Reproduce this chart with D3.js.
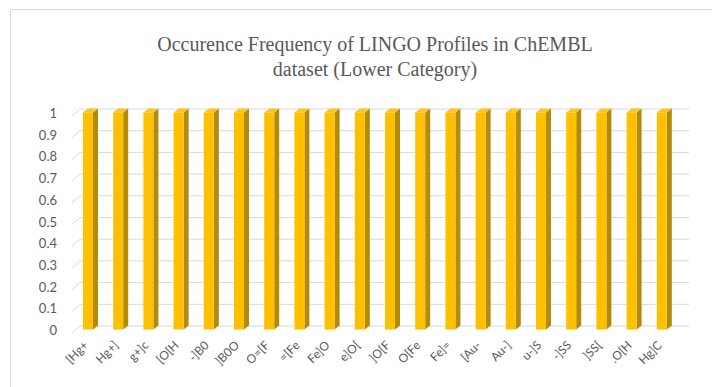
<!DOCTYPE html>
<html>
<head>
<meta charset="utf-8">
<script src="https://cdn.jsdelivr.net/npm/d3@7"></script>
<style>
  html, body { margin: 0; padding: 0; background: #fff; }
  svg { display: block; }
</style>
</head>
<body>
<svg id="chart" width="712" height="387"></svg>
<script>
// LINGO profiles (lower category) and their occurrence frequency
const categories = ["[Hg+", "Hg+]", "g+]c", "[O[H", "-]B0", "]B0O", "O=[F", "=[Fe", "Fe]O", "e]O[",
                    "]O[F", "O[Fe", "Fe]=", "[Au-", "Au-]", "u-]S", "-]SS", "]SS[", ".O[H", "Hg]C"];
const frequency = [1, 1, 1, 1, 1, 1, 1, 1, 1, 1, 1, 1, 1, 1, 1, 1, 1, 1, 1, 1];
const yTicks = [0, 0.1, 0.2, 0.3, 0.4, 0.5, 0.6, 0.7, 0.8, 0.9, 1];
const titleLines = ["Occurence Frequency of LINGO Profiles in ChEMBL", "dataset (Lower Category)"];

const svg = d3.select("#chart");
const textColor = "#595959";
const gridColor = "#D9D9D9";

// outer chart frame
svg.append("path")
  .attr("d", "M10.5,387 L10.5,9.5 L712,9.5")
  .attr("fill", "none")
  .attr("stroke", "#D9D9D9")
  .attr("stroke-width", 1);

// title
const title = svg.append("text")
  .attr("text-anchor", "middle")
  .attr("font-family", "'Liberation Serif', 'Times New Roman', serif")
  .attr("font-size", 20)
  .attr("fill", textColor);
titleLines.forEach((t, i) => {
  title.append("tspan").attr("x", 375).attr("y", 51 + i * 25).text(t);
});

// 3D geometry: back wall plane and the side wall depth offset
const depth = { dx: 8, dy: -7 };
const yBack = d3.scaleLinear().domain([0, 1]).range([326, 109]);
const wallLeft = 80, wallRight = 689;

// category positions
const x = d3.scaleBand().domain(categories).range([75, 679]).paddingInner(0).paddingOuter(0);

// gridlines: side wall diagonal + back wall horizontal
const grid = svg.append("g");
yTicks.forEach(v => {
  const yb = yBack(v);
  grid.append("path")
    .attr("d", `M${wallLeft - depth.dx},${yb - depth.dy} L${wallLeft},${yb} L${wallRight},${yb}`)
    .attr("fill", "none")
    .attr("stroke", gridColor)
    .attr("stroke-width", 1);
});

// y axis labels
svg.append("g").selectAll("text")
  .data(yTicks)
  .join("text")
  .attr("x", 57)
  .attr("y", d => yBack(d) + 9)
  .attr("text-anchor", "end")
  .attr("font-family", "Lato, 'Open Sans', sans-serif")
  .attr("font-size", 13)
  .attr("fill", textColor)
  .text(d => d3.format("~g")(d));

// bars: front face, side face, top face
const barW = 10, barD = { dx: 5, dy: -4 };
const yFront = v => yBack(v) + 3.5;
const bars = svg.append("g").selectAll("g")
  .data(categories.map((c, i) => ({ c, v: frequency[i] })))
  .join("g");

bars.append("path") // side
  .attr("d", d => {
    const x0 = x(d.c) + 8 + barW, yt = yFront(d.v), yb = yFront(0);
    return `M${x0},${yt} L${x0 + barD.dx},${yt + barD.dy} L${x0 + barD.dx},${yb + barD.dy} L${x0},${yb} Z`;
  })
  .attr("fill", "#B38A0A");

bars.append("path") // top
  .attr("d", d => {
    const x0 = x(d.c) + 8, yt = yFront(d.v);
    return `M${x0},${yt} L${x0 + barD.dx},${yt + barD.dy} L${x0 + barW + barD.dx},${yt + barD.dy} L${x0 + barW},${yt} Z`;
  })
  .attr("fill", "#F7C62F");

bars.append("rect") // front
  .attr("x", d => x(d.c) + 8)
  .attr("y", d => yFront(d.v))
  .attr("width", barW)
  .attr("height", d => yFront(0) - yFront(d.v))
  .attr("fill", "#FFC000");

// category labels, rotated
svg.append("g").selectAll("text")
  .data(categories)
  .join("text")
  .attr("transform", d => `translate(${x(d) + 14},${346}) rotate(-45)`)
  .attr("text-anchor", "end")
  .attr("font-family", "Lato, 'Open Sans', sans-serif")
  .attr("font-size", 12)
  .attr("fill", textColor)
  .text(d => d);
</script>
</body>
</html>
